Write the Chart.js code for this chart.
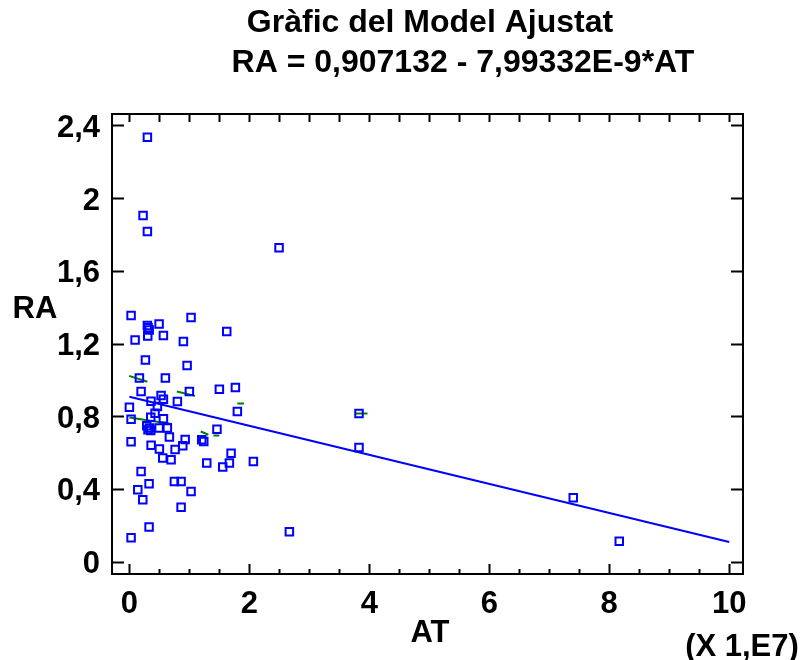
<!DOCTYPE html>
<html>
<head>
<meta charset="utf-8">
<script src="https://cdn.jsdelivr.net/npm/chart.js@4.4.1/dist/chart.umd.min.js"></script>
<style>
  html, body { margin: 0; padding: 0; background: #ffffff; }
  canvas { display: block; }
</style>
</head>
<body>
<canvas id="c" width="803" height="660"></canvas>
<script>
// ---- data (AT in units of 1E7, RA) ----
const atValues = [0.30, 0.228, 0.30, 2.495, 0.028, 0.30, 0.31, 0.33, 0.495, 1.028,
  1.623, 0.095, 0.306, 0.567, 0.90, 0.267, 0.962, 0.167, 0.60, 0.195,
  1.0, 1.5, 1.767, 0.528, 0.567, 0.36, 0.80, 0.0, 0.467, 1.8,
  0.428, 0.028, 0.356, 0.567, 3.828, 3.828, 2.067, 2.667, 7.40, 8.167,
  0.29, 0.333, 0.356, 0.31, 0.495, 0.633, 1.46, 0.667, 0.93, 1.206,
  1.24, 0.028, 0.362, 0.89, 0.5, 0.762, 0.556, 0.695, 1.29, 1.695,
  1.667, 1.556, 0.195, 0.328, 0.75, 0.862, 0.14, 1.028, 0.223, 0.862,
  0.328, 0.028];
const raValues = [2.335, 1.904, 1.816, 1.727, 1.354, 1.299, 1.287, 1.275, 1.308, 1.343,
  1.266, 1.220, 1.242, 1.244, 1.211, 1.110, 1.079, 1.011, 1.011, 0.936,
  0.936, 0.948, 0.958, 0.914, 0.894, 0.883, 0.881, 0.850, 0.854, 0.826,
  0.817, 0.784, 0.795, 0.786, 0.815, 0.628, 0.551, 0.165, 0.352, 0.112,
  0.748, 0.735, 0.722, 0.725, 0.735, 0.735, 0.728, 0.686, 0.672, 0.671,
  0.661, 0.660, 0.641, 0.638, 0.620, 0.617, 0.570, 0.561, 0.543, 0.596,
  0.543, 0.521, 0.496, 0.429, 0.441, 0.441, 0.396, 0.386, 0.341, 0.299,
  0.191, 0.132];

// fitted model line (read at its ends)
const fitAT = [0, 10];
const fitRA = [0.907, 0.108];

// short green marks (start/end pairs)
const greenAT = [[-0.005, 0.30], [0.0, 0.707], [0.79, 1.095], [1.19, 1.317], [1.4, 1.5], [1.8, 1.91], [3.76, 3.97]];
const greenRA = [[1.022, 0.990], [0.793, 0.757], [0.936, 0.912], [0.716, 0.698], [0.694, 0.694], [0.870, 0.870], [0.815, 0.815]];

// axis ticks
const xTickValues = [0, 2, 4, 6, 8, 10];
const xMinorStep = 0.5;
const yTickValues = [0, 0.4, 0.8, 1.2, 1.6, 2.0, 2.4];

const titleLine1 = 'Gràfic del Model Ajustat';
const titleLine2 = 'RA = 0,907132 - 7,99332E-9*AT';
const xAxisTitle = 'AT';
const yAxisTitle = 'RA';
const xScaleNote = '(X 1,E7)';

// ---- build ----
const FONT = "'Liberation Sans', Arial, sans-serif";
const points = atValues.map((x, i) => ({ x: x, y: raValues[i] }));
const fitPts = fitAT.map((x, i) => ({ x: x, y: fitRA[i] }));
const greenPts = [];
greenAT.forEach((seg, i) => {
  greenPts.push({ x: seg[0], y: greenRA[i][0] });
  greenPts.push({ x: seg[1], y: greenRA[i][1] });
  greenPts.push({ x: seg[1], y: null });
});

const decorPlugin = {
  id: 'decor',
  afterDraw(chart) {
    const ctx = chart.ctx;
    const a = chart.chartArea;
    const xs = chart.scales.x, ys = chart.scales.y;
    ctx.save();
    ctx.strokeStyle = '#000';
    ctx.lineWidth = 2;
    ctx.strokeRect(a.left, a.top, a.right - a.left, a.bottom - a.top);
    ctx.beginPath();
    // x ticks (inward)
    for (let v = 0; v <= 10 + 1e-9; v += xMinorStep) {
      const px = Math.round(xs.getPixelForValue(v)) + 0.5;
      const major = xTickValues.some(t => Math.abs(t - v) < 1e-9);
      ctx.moveTo(px, a.bottom); ctx.lineTo(px, a.bottom - (major ? 10 : 5));
      ctx.moveTo(px, a.top); ctx.lineTo(px, a.top + 8);
    }
    // y ticks (inward)
    yTickValues.forEach(v => {
      const py = Math.round(ys.getPixelForValue(v)) + 0.5;
      ctx.moveTo(a.left, py); ctx.lineTo(a.left + 12, py);
      ctx.moveTo(a.right, py); ctx.lineTo(a.right - 12, py);
    });
    ctx.stroke();

    ctx.fillStyle = '#000';
    ctx.textAlign = 'center';
    ctx.textBaseline = 'middle';
    ctx.font = 'bold 32px ' + FONT;
    ctx.fillText(titleLine1, 430, 23);
    ctx.fillText(titleLine2, 463, 63);
    ctx.font = 'bold 31px ' + FONT;
    ctx.fillText(yAxisTitle, 35, 309);
    ctx.fillText(xAxisTitle, 430, 633);
    ctx.fillText(xScaleNote, 742, 647);
    ctx.restore();
  }
};

new Chart(document.getElementById('c'), {
  type: 'scatter',
  data: {
    datasets: [
      {
        data: points,
        pointStyle: 'rect',
        pointRadius: 5.3,
        pointBorderWidth: 2,
        pointBorderColor: '#0000ff',
        pointBackgroundColor: 'rgba(0,0,0,0)',
        showLine: false
      },
      {
        data: fitPts,
        showLine: true,
        borderColor: '#0000ff',
        borderWidth: 2,
        pointRadius: 0,
        fill: false
      },
      {
        data: greenPts,
        showLine: true,
        spanGaps: false,
        borderColor: '#008000',
        borderWidth: 2,
        pointRadius: 0,
        fill: false
      }
    ]
  },
  options: {
    responsive: false,
    animation: false,
    devicePixelRatio: 1,
    layout: { padding: { top: 114, right: 60, left: 0, bottom: 0 } },
    plugins: { legend: { display: false }, tooltip: { enabled: false }, title: { display: false } },
    scales: {
      x: {
        type: 'linear', min: -0.29, max: 10.23,
        grid: { display: false, drawTicks: false },
        border: { display: false },
        afterFit(s) { s.height = 86; },
        afterBuildTicks(s) { s.ticks = xTickValues.map(v => ({ value: v })); },
        ticks: {
          padding: 12, color: '#000',
          font: { family: FONT, size: 31, weight: 'bold' },
          callback: v => String(v).replace('.', ',')
        }
      },
      y: {
        type: 'linear', min: -0.068, max: 2.463,
        grid: { display: false, drawTicks: false },
        border: { display: false },
        afterFit(s) { s.width = 112; },
        afterBuildTicks(s) { s.ticks = yTickValues.map(v => ({ value: v })); },
        ticks: {
          padding: 12, color: '#000', labelOffset: 3,
          font: { family: FONT, size: 31, weight: 'bold' },
          callback: v => String(Math.round(v * 10) / 10).replace('.', ',')
        }
      }
    }
  },
  plugins: [decorPlugin]
});
</script>
</body>
</html>
